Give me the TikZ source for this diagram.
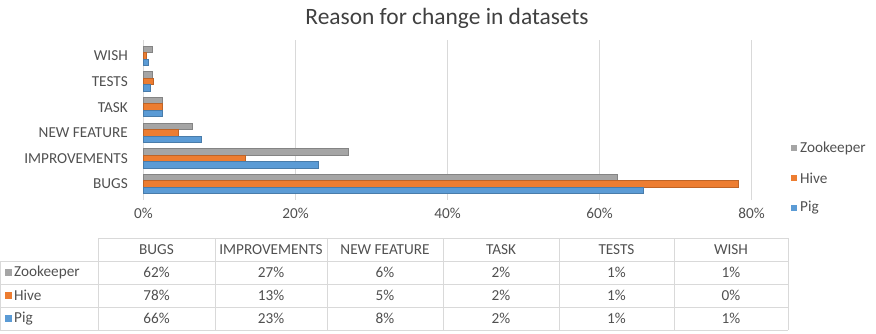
\documentclass[tikz,border=0pt]{standalone}
\usepackage{fontspec}
\setmainfont{Carlito}
\usepackage{tikz}

\definecolor{zooGris}{HTML}{A5A5A5}
\definecolor{hiveNaranja}{HTML}{ED7D31}
\definecolor{pigAzul}{HTML}{5B9BD5}
\definecolor{textoGris}{HTML}{505050}
\definecolor{rejilla}{HTML}{D9D9D9}

\begin{document}
\begin{tikzpicture}[x=0.3mm,y=-0.3mm]

    \tikzset{etiqueta/.style = {inner sep=0pt,text=textoGris,font=\fontsize{13}{15}\selectfont}}
    \tikzset{titulo/.style = {inner sep=0pt,text=textoGris!80!black,font=\fontsize{20}{24}\selectfont}}
    \tikzset{barZoo/.style = {fill=zooGris,draw=zooGris!80!black,line width=0.4pt}}
    \tikzset{barHive/.style = {fill=hiveNaranja,draw=hiveNaranja!80!black,line width=0.4pt}}
    \tikzset{barPig/.style = {fill=pigAzul,draw=pigAzul!80!black,line width=0.4pt}}
    \tikzset{cuadro/.style = {minimum size=2.0mm,inner sep=0pt}}
    \tikzset{lineaTabla/.style = {draw=rejilla,line width=0.5pt}}

    \useasboundingbox (0,0) rectangle (876,333);

    \node [titulo] (titulo) at (447,18) {Reason for change in datasets};


    %plot area, x in percent
    \begin{scope}[shift={(143.5,0)},x=2.28mm]
        \draw [rejilla] (0,40) -- (0,200);
        \draw [rejilla] (20,40) -- (20,200);
        \draw [rejilla] (40,40) -- (40,200);
        \draw [rejilla] (60,40) -- (60,200);
        \draw [rejilla] (80,40) -- (80,200);

        \node [etiqueta] (tick0) at (0,213) {0\%};
        \node [etiqueta] (tick20) at (20,213) {20\%};
        \node [etiqueta] (tick40) at (40,213) {40\%};
        \node [etiqueta] (tick60) at (60,213) {60\%};
        \node [etiqueta] (tick80) at (80,213) {80\%};

        %BUGS
        \draw [barZoo] (0,174) rectangle (62.3,180.5);
        \draw [barHive] (0,180.5) rectangle (78.3,187);
        \draw [barPig] (0,187) rectangle (65.8,193.5);

        %IMPROVEMENTS
        \draw [barZoo] (0,148.4) rectangle (26.9,154.9);
        \draw [barHive] (0,154.9) rectangle (13.4,161.4);
        \draw [barPig] (0,161.4) rectangle (23.0,167.9);

        %NEW FEATURE
        \draw [barZoo] (0,122.8) rectangle (6.4,129.3);
        \draw [barHive] (0,129.3) rectangle (4.6,135.8);
        \draw [barPig] (0,135.8) rectangle (7.6,142.3);

        %TASK
        \draw [barZoo] (0,97.2) rectangle (2.4,103.7);
        \draw [barHive] (0,103.7) rectangle (2.4,110.2);
        \draw [barPig] (0,110.2) rectangle (2.4,116.7);

        %TESTS
        \draw [barZoo] (0,71.6) rectangle (1.1,78.1);
        \draw [barHive] (0,78.1) rectangle (1.3,84.6);
        \draw [barPig] (0,84.6) rectangle (0.9,91.1);

        %WISH
        \draw [barZoo] (0,46) rectangle (1.1,52.5);
        \draw [barHive] (0,52.5) rectangle (0.4,59);
        \draw [barPig] (0,59) rectangle (0.6,65.5);
    \end{scope}


    %category labels
    \node [etiqueta,anchor=east] (catBugs) at (128,184) {BUGS};
    \node [etiqueta,anchor=east] (catImprov) at (128,158.4) {IMPROVEMENTS};
    \node [etiqueta,anchor=east] (catFeature) at (128,132.8) {NEW FEATURE};
    \node [etiqueta,anchor=east] (catTask) at (128,107.2) {TASK};
    \node [etiqueta,anchor=east] (catTests) at (128,81.6) {TESTS};
    \node [etiqueta,anchor=east] (catWish) at (128,56) {WISH};


    %legend
    \node [cuadro,fill=zooGris] (legZoo) at (794,148) {};
    \node [etiqueta,anchor=west] (legZooTxt) at (800,148) {Zookeeper};
    \node [cuadro,fill=hiveNaranja] (legHive) at (794,178) {};
    \node [etiqueta,anchor=west] (legHiveTxt) at (800,178) {Hive};
    \node [cuadro,fill=pigAzul] (legPig) at (794,208) {};
    \node [etiqueta,anchor=west] (legPigTxt) at (800,208) {Pig};


    %data table
    \draw [lineaTabla] (98,238) -- (788,238);
    \draw [lineaTabla] (0,261) -- (788,261);
    \draw [lineaTabla] (0,284) -- (788,284);
    \draw [lineaTabla] (0,307) -- (788,307);
    \draw [lineaTabla] (0,330) -- (788,330);
    \draw [lineaTabla] (0,261) -- (0,330);
    \draw [lineaTabla] (98,238) -- (98,330);
    \draw [lineaTabla] (215,238) -- (215,330);
    \draw [lineaTabla] (327,238) -- (327,330);
    \draw [lineaTabla] (443,238) -- (443,330);
    \draw [lineaTabla] (559,238) -- (559,330);
    \draw [lineaTabla] (674,238) -- (674,330);
    \draw [lineaTabla] (788,238) -- (788,330);

    \node [etiqueta] (colBugs) at (156.5,249.5) {BUGS};
    \node [etiqueta] (colImprov) at (271,249.5) {IMPROVEMENTS};
    \node [etiqueta] (colFeature) at (385,249.5) {NEW FEATURE};
    \node [etiqueta] (colTask) at (501,249.5) {TASK};
    \node [etiqueta] (colTests) at (616.5,249.5) {TESTS};
    \node [etiqueta] (colWish) at (731,249.5) {WISH};

    \node [cuadro,fill=zooGris] (filaZoo) at (8.5,272.5) {};
    \node [etiqueta,anchor=west] (filaZooTxt) at (14,272.5) {Zookeeper};
    \node [etiqueta] (z1) at (156.5,272.5) {62\%};
    \node [etiqueta] (z2) at (271,272.5) {27\%};
    \node [etiqueta] (z3) at (385,272.5) {6\%};
    \node [etiqueta] (z4) at (501,272.5) {2\%};
    \node [etiqueta] (z5) at (616.5,272.5) {1\%};
    \node [etiqueta] (z6) at (731,272.5) {1\%};

    \node [cuadro,fill=hiveNaranja] (filaHive) at (8.5,295.5) {};
    \node [etiqueta,anchor=west] (filaHiveTxt) at (14,295.5) {Hive};
    \node [etiqueta] (h1) at (156.5,295.5) {78\%};
    \node [etiqueta] (h2) at (271,295.5) {13\%};
    \node [etiqueta] (h3) at (385,295.5) {5\%};
    \node [etiqueta] (h4) at (501,295.5) {2\%};
    \node [etiqueta] (h5) at (616.5,295.5) {1\%};
    \node [etiqueta] (h6) at (731,295.5) {0\%};

    \node [cuadro,fill=pigAzul] (filaPig) at (8.5,318.5) {};
    \node [etiqueta,anchor=west] (filaPigTxt) at (14,318.5) {Pig};
    \node [etiqueta] (p1) at (156.5,318.5) {66\%};
    \node [etiqueta] (p2) at (271,318.5) {23\%};
    \node [etiqueta] (p3) at (385,318.5) {8\%};
    \node [etiqueta] (p4) at (501,318.5) {2\%};
    \node [etiqueta] (p5) at (616.5,318.5) {1\%};
    \node [etiqueta] (p6) at (731,318.5) {1\%};

\end{tikzpicture}
\end{document}
